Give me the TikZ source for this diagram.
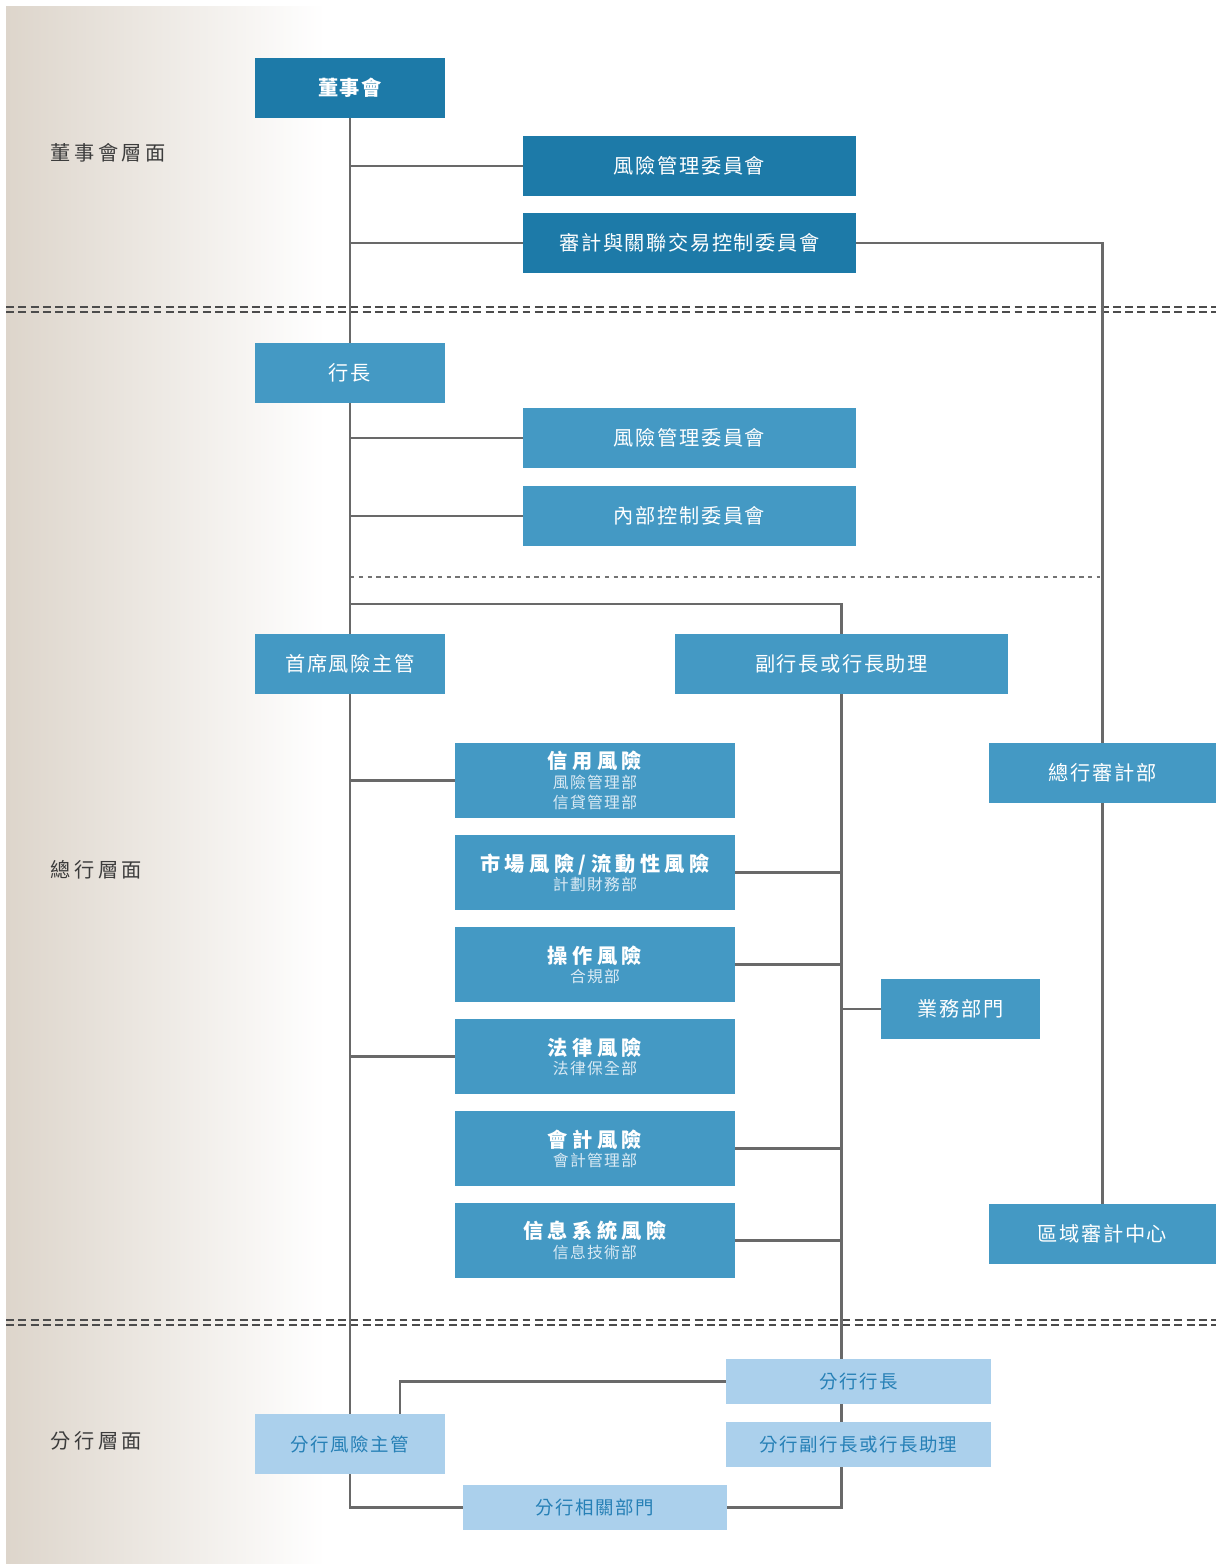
\documentclass[tikz,border=0pt]{standalone}
\usepackage{fontspec}
\setmainfont{Noto Sans CJK TC}
\newfontfamily\widefont[LetterSpace=18]{Noto Sans CJK TC}
\newfontfamily\boxfont[LetterSpace=8]{Noto Sans CJK TC}
\newfontfamily\riskfont[LetterSpace=22]{Noto Sans CJK TC}

\definecolor{boardblue}{RGB}{29,122,168}
\definecolor{mgmtblue}{RGB}{68,153,196}
\definecolor{branchblue}{RGB}{171,208,236}
\definecolor{branchtext}{RGB}{38,128,182}
\definecolor{subtext}{RGB}{218,234,244}
\definecolor{linegray}{RGB}{105,105,105}
\definecolor{panelbeige}{RGB}{221,213,203}
\definecolor{lvltext}{RGB}{60,60,60}

\begin{document}
\begin{tikzpicture}[
	x = 0.02cm, y = -0.02cm,
	box/.style = {inner sep = 0pt, align = center},
	dark/.style = {box, fill = boardblue, text = white, font = \boxfont\fontsize{11.5}{14}\selectfont},
	mid/.style = {box, fill = mgmtblue, text = white, font = \boxfont\fontsize{11.5}{14}\selectfont},
	light/.style = {box, fill = branchblue, text = branchtext, font = \boxfont\fontsize{10.5}{13}\selectfont},
	small/.style = {minimum width = 3.8cm, minimum height = 1.2cm},
	wide/.style = {minimum width = 6.66cm, minimum height = 1.2cm},
	risk/.style = {mid, minimum width = 5.6cm, minimum height = 1.5cm},
	brwide/.style = {minimum width = 5.3cm, minimum height = 0.9cm},
	lvl/.style = {anchor = west, inner sep = 0pt, text = lvltext, font = \widefont\fontsize{11.5}{14}\selectfont},
	link/.style = {draw = linegray, line width = 1.2pt},
	sepline/.style = {draw = black!70, line width = 0.75pt, dash pattern = on 4.5pt off 2.5pt},
	dotline/.style = {draw = black!55, line width = 0.8pt, dash pattern = on 2.5pt off 2.5pt}
	]

	\useasboundingbox (0,0) rectangle (1216,1564);

	% background panel and level borders
	\shade[left color = panelbeige, right color = white] (6,7) rectangle (325,1564);
	\draw[sepline] (6,307) -- (1216,307);
	\draw[sepline] (6,312) -- (1216,312);
	\draw[sepline] (6,1320) -- (1216,1320);
	\draw[sepline] (6,1325) -- (1216,1325);
	\draw[dotline] (350,577) -- (1100,577);

	\node[lvl] (lvlboard) at (50,153) {董事會層面};
	\node[lvl] (lvlhead) at (50,870) {總行層面};
	\node[lvl] (lvlbranch) at (50,1441) {分行層面};

	% board level
	\node[dark,small] (board) at (350,88) {\bfseries 董事會};
	\node[dark,wide] (rmcboard) at (689.5,166) {風險管理委員會};
	\node[dark,wide] (auditcomm) at (689.5,243) {審計與關聯交易控制委員會};

	% head office
	\node[mid,small] (pres) at (350,373) {行長};
	\node[mid,wide] (rmcpres) at (689.5,438) {風險管理委員會};
	\node[mid,wide] (icc) at (689.5,516) {內部控制委員會};
	\node[mid,small] (cro) at (350,664) {首席風險主管};
	\node[mid,wide] (vp) at (841.5,664) {副行長或行長助理};

	\node[risk] (credit) at (595,780.5) {{\riskfont\bfseries\fontsize{11.5}{12}\selectfont 信用風險}\\[-3pt]
		{\color{subtext}\fontsize{9}{10}\selectfont 風險管理部}\\[-2.5pt]{\color{subtext}\fontsize{9}{10}\selectfont 信貸管理部}};
	\node[risk] (market) at (595,872.5) {{\riskfont\bfseries\fontsize{11.5}{12}\selectfont 市場風險/流動性風險}\\[-3pt]
		{\color{subtext}\fontsize{9}{10}\selectfont 計劃財務部}};
	\node[risk] (oper) at (595,964.5) {{\riskfont\bfseries\fontsize{11.5}{12}\selectfont 操作風險}\\[-3pt]
		{\color{subtext}\fontsize{9}{10}\selectfont 合規部}};
	\node[risk] (legal) at (595,1056.5) {{\riskfont\bfseries\fontsize{11.5}{12}\selectfont 法律風險}\\[-3pt]
		{\color{subtext}\fontsize{9}{10}\selectfont 法律保全部}};
	\node[risk] (acct) at (595,1148.5) {{\riskfont\bfseries\fontsize{11.5}{12}\selectfont 會計風險}\\[-3pt]
		{\color{subtext}\fontsize{9}{10}\selectfont 會計管理部}};
	\node[risk] (infosys) at (595,1240.5) {{\riskfont\bfseries\fontsize{11.5}{12}\selectfont 信息系統風險}\\[-3pt]
		{\color{subtext}\fontsize{9}{10}\selectfont 信息技術部}};

	\node[mid,minimum width = 4.54cm,minimum height = 1.2cm] (audit) at (1102.5,773) {總行審計部};
	\node[mid,minimum width = 3.18cm,minimum height = 1.2cm] (biz) at (960.5,1009) {業務部門};
	\node[mid,minimum width = 4.54cm,minimum height = 1.2cm] (regaudit) at (1102.5,1234) {區域審計中心};

	% branch level
	\node[light,brwide] (brpres) at (858.5,1381.5) {分行行長};
	\node[light,brwide] (brvp) at (858.5,1444.5) {分行副行長或行長助理};
	\node[light,small] (brcro) at (350,1444) {分行風險主管};
	\node[light,minimum width = 5.28cm,minimum height = 0.9cm] (brdept) at (595,1507.5) {分行相關部門};

	\coordinate (vpjoin) at (350,604);

	% connectors
	\draw[link] (board.south) -- (pres.north);
	\draw[link] (pres.south) -- (cro.north);
	\draw[link] (cro.south) -- (brcro.north);
	\draw[link] (brcro.south) |- (brdept.west);
	\draw[link] (rmcboard.west) -- (rmcboard.west -| board.south);
	\draw[link] (auditcomm.west) -- (auditcomm.west -| board.south);
	\draw[link] (auditcomm.east) -| (audit.north);
	\draw[link] (audit.south) -- (regaudit.north);
	\draw[link] (rmcpres.west) -- (rmcpres.west -| pres.south);
	\draw[link] (icc.west) -- (icc.west -| pres.south);
	\draw[link] (vp.north) |- (vpjoin);
	\draw[link] (vp.south) -- (vp.south |- brpres.north);
	\draw[link] (brpres.south -| vp.south) -- (brvp.north -| vp.south);
	\draw[link] (brvp.south -| vp.south) |- (brdept.east);
	\draw[link] (credit.west) -- (credit.west -| cro.south);
	\draw[link] (legal.west) -- (legal.west -| cro.south);
	\foreach \r in {market,oper,acct,infosys}
		\draw[link] (\r.east) -- (\r.east -| vp.south);
	\draw[link] (biz.west) -- (biz.west -| vp.south);
	\draw[link] (brpres.west) -| ([xshift = 1cm]brcro.north);

\end{tikzpicture}
\end{document}
